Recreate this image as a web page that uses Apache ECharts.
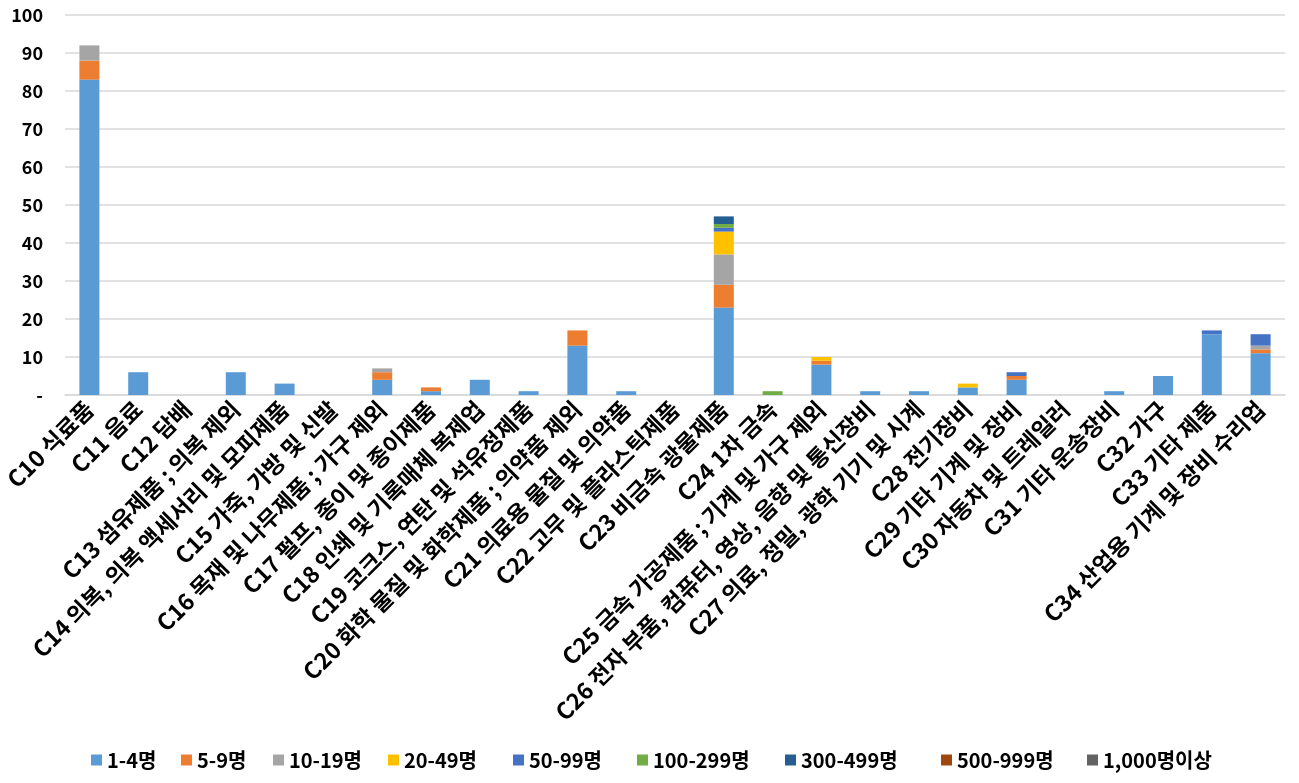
<!DOCTYPE html>
<html><head><meta charset="utf-8">
<script src="https://cdn.jsdelivr.net/npm/echarts@6/dist/echarts.min.js"></script>
<style>html,body{margin:0;padding:0;background:#fff}#c{width:1299px;height:783px}</style>
</head><body><div id="c"></div>
<script>
var categories = ['C10 식료품','C11 음료','C12 담배','C13 섬유제품 ; 의복 제외','C14 의복, 의복 액세서리 및 모피제품','C15 가죽, 가방 및 신발','C16 목재 및 나무제품 ; 가구 제외','C17 펄프, 종이 및 종이제품','C18 인쇄 및 기록매체 복제업','C19 코크스, 연탄 및 석유정제품','C20 화학 물질 및 화학제품 ; 의약품 제외','C21 의료용 물질 및 의약품','C22 고무 및 플라스틱제품','C23 비금속 광물제품','C24 1차 금속','C25 금속 가공제품 ; 기계 및 가구 제외','C26 전자 부품, 컴퓨터, 영상, 음향 및 통신장비','C27 의료, 정밀, 광학 기기 및 시계','C28 전기장비','C29 기타 기계 및 장비','C30 자동차 및 트레일러','C31 기타 운송장비','C32 가구','C33 기타 제품','C34 산업용 기계 및 장비 수리업'];
var seriesNames = ['1-4명','5-9명','10-19명','20-49명','50-99명','100-299명','300-499명','500-999명','1,000명이상'];
var s1_4     = [83,6,0,6,3,0,4,1,4,1,13,1,0,23,0,8,1,1,2,4,0,1,5,16,11];
var s5_9     = [5,0,0,0,0,0,2,1,0,0,4,0,0,6,0,1,0,0,0,1,0,0,0,0,1];
var s10_19   = [4,0,0,0,0,0,1,0,0,0,0,0,0,8,0,0,0,0,0,0,0,0,0,0,1];
var s20_49   = [0,0,0,0,0,0,0,0,0,0,0,0,0,6,0,1,0,0,1,0,0,0,0,0,0];
var s50_99   = [0,0,0,0,0,0,0,0,0,0,0,0,0,1,0,0,0,0,0,1,0,0,0,1,3];
var s100_299 = [0,0,0,0,0,0,0,0,0,0,0,0,0,1,1,0,0,0,0,0,0,0,0,0,0];
var s300_499 = [0,0,0,0,0,0,0,0,0,0,0,0,0,2,0,0,0,0,0,0,0,0,0,0,0];
var s500_999 = [0,0,0,0,0,0,0,0,0,0,0,0,0,0,0,0,0,0,0,0,0,0,0,0,0];
var s1000    = [0,0,0,0,0,0,0,0,0,0,0,0,0,0,0,0,0,0,0,0,0,0,0,0,0];
var yTicks = [0,10,20,30,40,50,60,70,80,90,100];
var colors = ['#5B9BD5','#ED7D31','#A5A5A5','#FFC000','#4472C4','#70AD47','#255E91','#9E480E','#636363'];
var allData = [s1_4,s5_9,s10_19,s20_49,s50_99,s100_299,s300_499,s500_999,s1000];
var font = '"Noto Sans CJK KR", "Noto Sans", sans-serif';
var legendLefts = [86,176,268,383,508,632,780,936,1082];
var chart = echarts.init(document.getElementById('c'));
chart.setOption({
  animation:false,
  color: colors,
  textStyle:{fontFamily:font},
  grid:{left:65,right:14,top:15,bottom:388},
  legend: seriesNames.map(function(n,i){
    return {
      top:745, left:legendLefts[i], icon:'rect', itemWidth:11, itemHeight:11,
      textStyle:{fontFamily:font, fontWeight:'bold', fontSize:20, color:'#000'},
      data:[n]
    };
  }),
  xAxis:{
    type:'category', data:categories,
    axisLine:{lineStyle:{color:'#d9d9d9',width:1.5}},
    axisTick:{show:false},
    axisLabel:{interval:0, rotate:45, margin:10, fontFamily:font, fontWeight:'bold', fontSize:23, color:'#000'}
  },
  yAxis:{
    type:'value', min:0, max:100, interval:10,
    axisLine:{show:false}, axisTick:{show:false},
    splitLine:{lineStyle:{color:'#d9d9d9',width:1.5}},
    axisLabel:{margin:22, fontFamily:font, fontWeight:'bold', fontSize:18, color:'#000',
      formatter:function(v){return v===0?'-':String(v);}}
  },
  series: seriesNames.map(function(n,i){
    return {name:n, type:'bar', stack:'t', barWidth:20, data:allData[i]};
  })
});
</script></body></html>
